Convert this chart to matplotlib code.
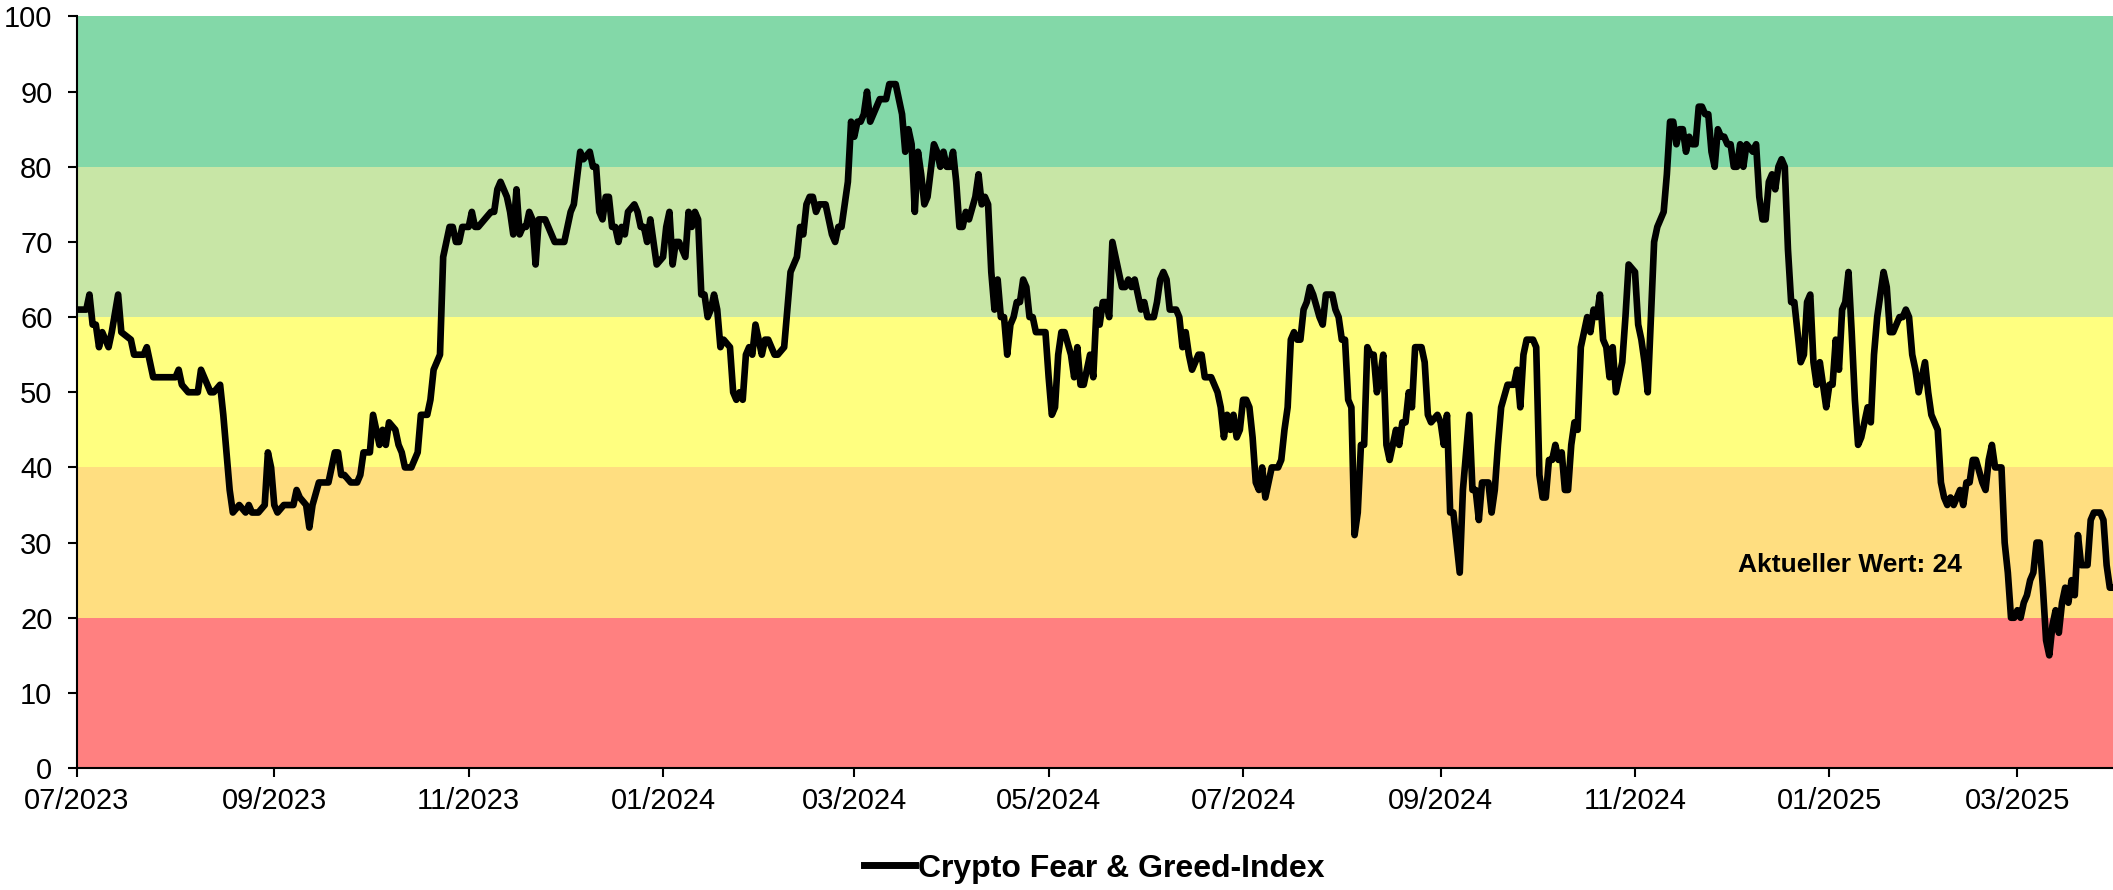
import matplotlib

matplotlib.use('Agg')
import matplotlib.pyplot as plt
import matplotlib.dates as mdates
import pandas as pd

plt.rcParams['font.family'] = ['Liberation Sans', 'DejaVu Sans']

START = pd.Timestamp('2023-07-01')
END = pd.Timestamp('2025-03-31')

# days after START
day_offsets = [
    0, 3, 4, 5, 6, 7, 8, 10, 11, 13, 14, 17, 18, 21, 22, 24, 26, 27, 29, 31,
    32, 33, 35, 37, 38, 39, 42, 43, 45, 46, 48, 49, 51, 53, 54, 55, 57, 59, 60, 61,
    62, 63, 65, 68, 69, 70, 72, 73, 74, 76, 77, 79, 81, 82, 83, 84, 86, 88, 89, 90,
    92, 93, 95, 96, 97, 98, 100, 101, 102, 103, 104, 105, 107, 108, 110, 111, 112, 113, 114, 115,
    116, 117, 118, 119, 120, 121, 123, 124, 125, 126, 128, 130, 131, 132, 133, 135, 136, 137, 138, 139,
    140, 141, 142, 143, 144, 145, 147, 150, 151, 153, 155, 156, 158, 159, 161, 162, 163, 164, 165, 166,
    167, 168, 169, 170, 171, 172, 173, 175, 176, 177, 178, 179, 180, 181, 182, 184, 185, 186, 187, 188,
    189, 191, 192, 193, 194, 195, 196, 197, 198, 199, 200, 201, 202, 203, 205, 206, 207, 208, 209, 210,
    211, 212, 213, 215, 216, 217, 219, 220, 222, 223, 224, 226, 227, 228, 229, 230, 231, 232, 233, 235,
    237, 238, 239, 240, 242, 243, 244, 245, 246, 247, 248, 249, 251, 252, 254, 255, 256, 257, 258, 259,
    260, 261, 262, 263, 264, 265, 266, 267, 269, 270, 271, 272, 273, 274, 275, 276, 277, 278, 279, 280,
    282, 283, 284, 285, 286, 287, 288, 289, 290, 291, 292, 293, 294, 295, 296, 297, 298, 299, 300, 301,
    303, 304, 305, 306, 307, 308, 309, 310, 312, 313, 314, 315, 316, 317, 318, 319, 320, 321, 322, 323,
    324, 325, 326, 327, 328, 329, 330, 331, 332, 333, 334, 335, 336, 338, 339, 340, 341, 342, 343, 345,
    346, 347, 348, 349, 350, 352, 353, 354, 356, 357, 358, 359, 360, 361, 362, 363, 364, 365, 366, 367,
    368, 369, 370, 371, 372, 373, 374, 375, 377, 378, 379, 380, 381, 382, 383, 384, 385, 386, 387, 388,
    390, 391, 392, 393, 394, 395, 396, 397, 398, 399, 400, 401, 402, 403, 404, 405, 406, 407, 408, 409,
    410, 411, 412, 414, 415, 416, 417, 418, 419, 420, 422, 423, 424, 425, 427, 428, 429, 430, 431, 432,
    434, 435, 437, 438, 439, 440, 441, 443, 444, 445, 446, 447, 449, 451, 452, 453, 454, 455, 457, 458,
    459, 460, 461, 462, 463, 464, 465, 466, 467, 468, 469, 470, 471, 472, 474, 475, 476, 477, 478, 479,
    480, 481, 482, 483, 484, 485, 486, 487, 489, 490, 491, 492, 493, 494, 495, 496, 497, 498, 499, 500,
    501, 502, 503, 504, 505, 506, 507, 508, 509, 510, 511, 512, 513, 514, 515, 516, 517, 518, 519, 520,
    521, 522, 523, 524, 526, 527, 528, 529, 530, 531, 532, 533, 534, 535, 536, 537, 538, 539, 540, 541,
    542, 543, 544, 545, 546, 547, 548, 549, 550, 551, 552, 553, 554, 555, 556, 557, 558, 559, 560, 562,
    563, 564, 565, 566, 567, 568, 569, 570, 571, 572, 573, 574, 575, 576, 577, 578, 579, 580, 581, 582,
    583, 584, 585, 586, 587, 588, 589, 591, 592, 593, 594, 595, 596, 598, 599, 600, 601, 602, 604, 605,
    606, 607, 608, 609, 610, 611, 612, 613, 614, 615, 616, 617, 618, 619, 620, 621, 622, 623, 624, 625,
    626, 627, 628, 629, 631, 632, 633, 635, 636, 637, 638, 639,
]

fg_values = [
    61, 61, 63, 59, 59, 56, 58, 56, 58, 63, 58, 57, 55, 55, 56, 52, 52, 52, 52, 52,
    53, 51, 50, 50, 50, 53, 50, 50, 51, 47, 37, 34, 35, 34, 35, 34, 34, 35, 42, 40,
    35, 34, 35, 35, 37, 36, 35, 32, 35, 38, 38, 38, 42, 42, 39, 39, 38, 38, 39, 42,
    42, 47, 43, 45, 43, 46, 45, 43, 42, 40, 40, 40, 42, 47, 47, 49, 53, 54, 55, 68,
    70, 72, 72, 70, 70, 72, 72, 74, 72, 72, 73, 74, 74, 77, 78, 76, 74, 71, 77, 71,
    72, 72, 74, 73, 67, 73, 73, 70, 70, 70, 74, 75, 82, 81, 82, 80, 80, 74, 73, 76,
    76, 72, 72, 70, 72, 71, 74, 75, 74, 72, 72, 70, 73, 70, 67, 68, 72, 74, 67, 70,
    70, 68, 74, 72, 74, 73, 63, 63, 60, 61, 63, 61, 56, 57, 56, 50, 49, 50, 49, 55,
    56, 55, 59, 55, 57, 57, 55, 55, 56, 61, 66, 68, 72, 71, 75, 76, 76, 74, 75, 75,
    71, 70, 72, 72, 78, 86, 84, 86, 86, 87, 90, 86, 88, 89, 89, 91, 91, 91, 89, 87,
    82, 85, 83, 74, 82, 79, 75, 76, 83, 82, 80, 82, 80, 80, 82, 78, 72, 72, 74, 73,
    76, 79, 75, 76, 75, 66, 61, 65, 60, 60, 55, 59, 60, 62, 62, 65, 64, 60, 60, 58,
    58, 58, 52, 47, 48, 55, 58, 58, 55, 52, 56, 51, 51, 53, 55, 52, 61, 59, 62, 62,
    60, 70, 68, 66, 64, 64, 65, 64, 65, 63, 61, 62, 60, 60, 62, 65, 66, 65, 61, 61,
    60, 56, 58, 55, 53, 55, 55, 52, 52, 51, 50, 48, 44, 47, 45, 47, 44, 45, 49, 49,
    48, 44, 38, 37, 40, 36, 38, 40, 40, 41, 45, 48, 57, 58, 57, 57, 61, 62, 64, 63,
    60, 59, 63, 63, 63, 61, 60, 57, 57, 49, 48, 31, 34, 43, 43, 56, 55, 55, 50, 52,
    55, 43, 41, 45, 43, 46, 46, 50, 48, 56, 56, 54, 47, 46, 47, 46, 43, 47, 34, 34,
    26, 37, 47, 37, 37, 33, 38, 38, 34, 37, 43, 48, 51, 51, 53, 48, 55, 57, 57, 56,
    39, 36, 36, 41, 41, 43, 41, 42, 37, 37, 43, 46, 45, 56, 60, 58, 61, 60, 63, 57,
    56, 52, 56, 50, 52, 54, 60, 67, 66, 59, 57, 54, 50, 60, 70, 72, 73, 74, 79, 86,
    86, 83, 85, 85, 82, 84, 83, 83, 88, 88, 87, 87, 82, 80, 85, 84, 84, 83, 83, 80,
    80, 83, 80, 83, 82, 83, 76, 73, 73, 78, 79, 77, 80, 81, 80, 69, 62, 62, 58, 54,
    55, 62, 63, 54, 51, 54, 51, 48, 51, 51, 57, 53, 61, 62, 66, 58, 49, 43, 44, 48,
    46, 55, 60, 63, 66, 64, 58, 58, 59, 60, 60, 61, 60, 55, 53, 50, 52, 54, 50, 47,
    46, 45, 38, 36, 35, 36, 35, 37, 35, 38, 38, 41, 41, 38, 37, 41, 43, 40, 40, 30,
    26, 20, 20, 21, 20, 22, 23, 25, 26, 30, 30, 24, 17, 15, 19, 21, 18, 22, 24, 22,
    25, 23, 31, 27, 27, 33, 34, 34, 33, 27, 24, 24,
]

# sentiment zones: lower bound, upper bound, colour
band_bounds = [0, 20, 40, 60, 80, 100]
band_colors = ['#FF8080', '#FFDE80', '#FFFF80', '#C8E6A6', '#83D8A8']

tick_dates = pd.date_range('2023-07-01', '2025-03-01', freq='2MS')

dates = START + pd.to_timedelta(day_offsets, unit='D')

fig = plt.figure(figsize=(21.13, 8.90), dpi=100)
ax = fig.add_axes([0.0363, 0.137, 0.9637, 0.8445])

for lo, hi, col in zip(band_bounds[:-1], band_bounds[1:], band_colors):
    ax.axhspan(lo, hi, color=col, lw=0, zorder=0)

ax.plot(dates, fg_values, color='black', lw=4.8, solid_joinstyle='round',
        label='Crypto Fear & Greed-Index', zorder=3)

ax.set_xlim(START, END)
ax.set_ylim(0, 100)
ax.set_yticks(range(0, 101, 10))
ax.set_xticks(tick_dates)
ax.xaxis.set_major_formatter(mdates.DateFormatter('%m/%Y'))

for side in ('top', 'right'):
    ax.spines[side].set_visible(False)
for side in ('left', 'bottom'):
    ax.spines[side].set_linewidth(1.5)
    ax.spines[side].set_zorder(4)

ax.tick_params(axis='both', direction='out', length=6.5, width=1.5, labelsize=21)
ax.tick_params(axis='y', pad=11)
ax.tick_params(axis='x', pad=7)

ax.text(0.871, 0.27, 'Aktueller Wert: 24', transform=ax.transAxes,
        ha='center', va='center', fontsize=19, fontweight='bold', zorder=5)

leg = fig.legend(loc='center', bbox_to_anchor=(0.518, 0.024), frameon=False,
                 prop={'size': 23, 'weight': 'bold'}, handlelength=1.6,
                 handletextpad=0.1)
for line in leg.get_lines():
    line.set_linewidth(5)

fig.savefig('out.png', dpi=100)
plt.close(fig)
